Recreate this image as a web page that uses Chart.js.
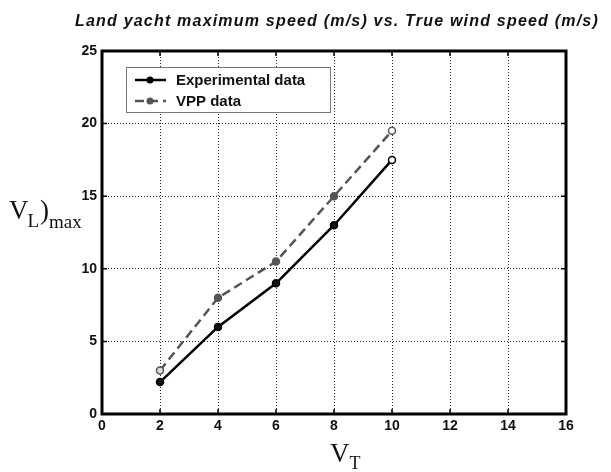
<!DOCTYPE html>
<html lang="en">
<head>
    <meta charset="UTF-8">
    <title>Land yacht maximum speed vs. true wind speed</title>
    <script src="https://cdn.jsdelivr.net/npm/chart.js"></script>
    <style>
        body {
            margin: 0;
            background-color: #fff;
        }
        #speedChart {
            display: block;
        }
    </style>
</head>
<body>
    <canvas id="speedChart" width="611" height="472"></canvas>

    <script>
        // True wind speed (m/s) and measured / predicted land yacht top speed (m/s)
        const windSpeed = [2, 4, 6, 8, 10];
        const experimental = [2.2, 6, 9, 13, 17.5];
        const vpp = [3, 8, 10.5, 15, 19.5];
        const seriesNames = ['Experimental data', 'VPP data'];
        const titleText = 'Land yacht maximum speed (m/s) vs. True wind speed (m/s)';

        const toPoints = (ys) => windSpeed.map((x, i) => ({ x: x, y: ys[i] }));

        // Frame, inward tick marks, title, axis labels and the boxed legend
        const decorations = {
            id: 'decorations',
            afterDraw(chart) {
                const ctx = chart.ctx;
                const area = chart.chartArea;
                const xs = chart.scales.x;
                const ys = chart.scales.y;

                ctx.save();
                ctx.strokeStyle = '#000';
                ctx.lineWidth = 1.5;
                ctx.beginPath();
                xs.ticks.forEach(t => {
                    const px = xs.getPixelForValue(t.value);
                    ctx.moveTo(px, area.bottom); ctx.lineTo(px, area.bottom - 5);
                    ctx.moveTo(px, area.top); ctx.lineTo(px, area.top + 5);
                });
                ys.ticks.forEach(t => {
                    const py = ys.getPixelForValue(t.value);
                    ctx.moveTo(area.left, py); ctx.lineTo(area.left + 5, py);
                    ctx.moveTo(area.right, py); ctx.lineTo(area.right - 5, py);
                });
                ctx.stroke();

                ctx.lineWidth = 3;
                ctx.strokeRect(area.left, area.top, area.right - area.left, area.bottom - area.top);

                // title
                ctx.fillStyle = '#111';
                ctx.font = 'italic bold 16px "Liberation Sans", Arial, sans-serif';
                ctx.textBaseline = 'alphabetic';
                ctx.textAlign = 'left';
                ctx.letterSpacing = '1.2px';
                ctx.fillText(titleText, 75, 26);
                ctx.letterSpacing = '0px';

                // y label: V_L)_max
                const serif = '"Liberation Serif", "Times New Roman", serif';
                ctx.font = '27px ' + serif;
                ctx.fillText('V', 9, 219);
                let x = 9 + ctx.measureText('V').width;
                ctx.font = '19px ' + serif;
                ctx.fillText('L', x - 1, 227);
                x += ctx.measureText('L').width;
                ctx.font = '27px ' + serif;
                ctx.fillText(')', x, 219);
                x += ctx.measureText(')').width;
                ctx.font = '19px ' + serif;
                ctx.fillText('max', x, 228);

                // x label: V_T
                ctx.font = '27px ' + serif;
                ctx.fillText('V', 330, 462);
                x = 330 + ctx.measureText('V').width;
                ctx.font = '18px ' + serif;
                ctx.fillText('T', x, 469);

                // legend box
                const lx = 126, ly = 67, lw = 204, lh = 45;
                ctx.fillStyle = '#fff';
                ctx.fillRect(lx, ly, lw, lh);
                ctx.strokeStyle = '#777';
                ctx.lineWidth = 1;
                ctx.strokeRect(lx + 0.5, ly + 0.5, lw, lh);

                chart.data.datasets.forEach((ds, i) => {
                    const rowY = 80 + i * 21;
                    ctx.strokeStyle = ds.borderColor;
                    ctx.lineWidth = ds.borderWidth;
                    ctx.setLineDash(ds.borderDash || []);
                    ctx.beginPath();
                    ctx.moveTo(135, rowY);
                    ctx.lineTo(166, rowY);
                    ctx.stroke();
                    ctx.setLineDash([]);
                    ctx.fillStyle = ds.borderColor;
                    ctx.beginPath();
                    ctx.arc(150, rowY, 3.5, 0, Math.PI * 2);
                    ctx.fill();

                    ctx.fillStyle = '#111';
                    ctx.font = 'bold 15px "Liberation Sans", Arial, sans-serif';
                    ctx.textBaseline = 'middle';
                    ctx.fillText(ds.label, 176, rowY + 1);
                });
                ctx.restore();
            }
        };

        const tickFont = { family: '"Liberation Sans", Arial, sans-serif', size: 14, weight: 'bold' };

        new Chart(document.getElementById('speedChart'), {
            type: 'line',
            data: {
                datasets: [{
                    label: seriesNames[0],
                    data: toPoints(experimental),
                    borderColor: '#000',
                    borderWidth: 2.5,
                    pointRadius: 3.5,
                    pointBackgroundColor: ['#111', '#111', '#111', '#111', '#fff'],
                    pointBorderColor: '#000',
                    pointBorderWidth: 1.5,
                    tension: 0
                }, {
                    label: seriesNames[1],
                    data: toPoints(vpp),
                    borderColor: '#555',
                    borderWidth: 2.5,
                    borderDash: [9, 5],
                    pointRadius: 3.5,
                    pointBackgroundColor: ['#ddd', '#555', '#555', '#555', '#fff'],
                    pointBorderColor: '#555',
                    pointBorderWidth: 1.5,
                    tension: 0
                }]
            },
            options: {
                responsive: false,
                animation: false,
                layout: {
                    padding: { left: 0, top: 51, right: 45, bottom: 0 }
                },
                plugins: {
                    legend: { display: false },
                    title: { display: false },
                    tooltip: { enabled: false }
                },
                scales: {
                    x: {
                        type: 'linear',
                        min: 0,
                        max: 16,
                        afterFit: (scale) => { scale.height = 58; },
                        ticks: {
                            stepSize: 2,
                            color: '#111',
                            font: tickFont,
                            padding: 4
                        },
                        grid: {
                            color: '#222',
                            lineWidth: 1,
                            drawTicks: false
                        },
                        border: { display: false, dash: [1, 2] }
                    },
                    y: {
                        min: 0,
                        max: 25,
                        afterFit: (scale) => { scale.width = 102; },
                        ticks: {
                            stepSize: 5,
                            color: '#111',
                            font: tickFont,
                            padding: 5
                        },
                        grid: {
                            color: '#222',
                            lineWidth: 1,
                            drawTicks: false
                        },
                        border: { display: false, dash: [1, 2] }
                    }
                }
            },
            plugins: [decorations]
        });
    </script>
</body>
</html>
